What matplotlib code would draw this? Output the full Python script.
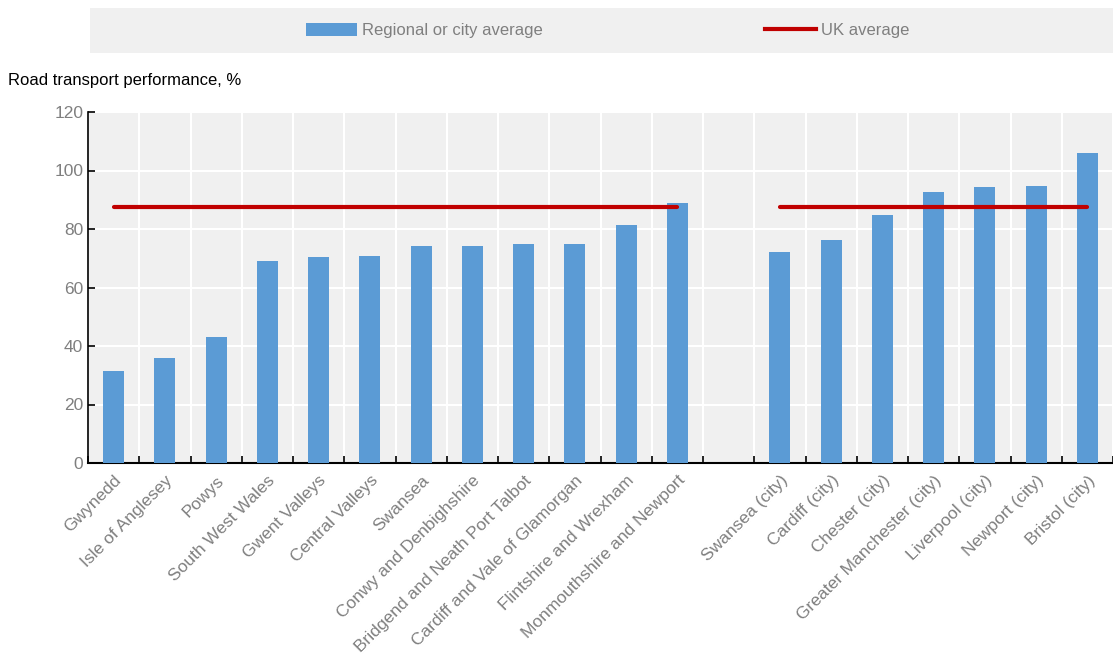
import numpy as np
import matplotlib
matplotlib.use('Agg')
import matplotlib.pyplot as plt
from matplotlib.patches import Patch
from matplotlib.lines import Line2D

# Данные
regions = ['Gwynedd', 'Isle of Anglesey', 'Powys', 'South West Wales', 'Gwent Valleys',
           'Central Valleys', 'Swansea', 'Conwy and Denbighshire',
           'Bridgend and Neath Port Talbot', 'Cardiff and Vale of Glamorgan',
           'Flintshire and Wrexham', 'Monmouthshire and Newport']
region_values = [31.5, 35.8, 43.0, 69.2, 70.3, 70.7, 74.2, 74.3, 74.8, 75.0, 81.5, 88.9]

cities = ['Swansea (city)', 'Cardiff (city)', 'Chester (city)', 'Greater Manchester (city)',
          'Liverpool (city)', 'Newport (city)', 'Bristol (city)']
city_values = [72.1, 76.2, 84.8, 92.6, 94.4, 94.7, 106.0]

uk_average = 87.6

labels = regions + [''] + cities
values = region_values + [np.nan] + city_values
uk_line = [uk_average] * len(regions) + [np.nan] + [uk_average] * len(cities)
x = np.arange(len(labels))

plt.rcParams['font.family'] = ['Liberation Sans', 'DejaVu Sans']

BLUE = '#5b9bd5'
RED = '#c00000'
BG = '#f0f0f0'
GREY = '#7f7f7f'

fig = plt.figure(figsize=(11.13, 6.57), dpi=100)
ax = fig.add_axes([88 / 1113, 1 - 463 / 657, 1 - 88 / 1113, 351 / 657])
ax.set_facecolor(BG)

ax.bar(x, values, width=0.41, color=BLUE, zorder=3)
ax.plot(x, uk_line, color=RED, linewidth=3, solid_capstyle='round', zorder=4)

ax.set_xlim(-0.5, len(labels) - 0.5)
ax.set_ylim(0, 120)
ax.set_yticks(np.arange(0, 121, 20))

# сетка: вертикальные линии по границам категорий
ax.set_xticks(np.arange(-0.5, len(labels), 1), minor=True)
ax.set_xticks(x)
ax.set_xticklabels(labels, rotation=45, ha='right', rotation_mode='anchor',
                   fontsize=12.5, color=GREY)
ax.tick_params(axis='x', which='major', length=0, pad=7)
ax.tick_params(axis='x', which='minor', length=5, direction='in', width=1.2, color='black')
ax.tick_params(axis='y', length=5, direction='in', width=1.2, labelsize=12.5, labelcolor=GREY)
ax.grid(axis='y', color='white', linewidth=1.5, zorder=0)
ax.grid(axis='x', which='minor', color='white', linewidth=1.5, zorder=0)
ax.set_axisbelow(True)

for s in ['top', 'right']:
    ax.spines[s].set_visible(False)
ax.spines['left'].set_color('black')
ax.spines['bottom'].set_color('black')
ax.spines['left'].set_linewidth(1.2)
ax.spines['bottom'].set_linewidth(1.5)

fig.text(8 / 1113, 1 - 80 / 657, 'Road transport performance, %', fontsize=12,
         color='black', va='center', ha='left')

# Легенда
ax_leg = fig.add_axes([90 / 1113, 1 - 53 / 657, 1023 / 1113, 45 / 657])
ax_leg.set_facecolor(BG)
ax_leg.set_xticks([])
ax_leg.set_yticks([])
for s in ax_leg.spines.values():
    s.set_visible(False)
handles = [Patch(facecolor=BLUE, label='Regional or city average'),
           Line2D([0], [0], color=RED, linewidth=3, label='UK average')]
leg = ax_leg.legend(handles=handles, ncol=2, loc='center', bbox_to_anchor=(0.506, 0.5),
                    frameon=False, fontsize=12,
                    handlelength=3.1, handleheight=0.8, handletextpad=0.3,
                    columnspacing=13.3, labelcolor=GREY)

fig.savefig('out.png', dpi=100)
